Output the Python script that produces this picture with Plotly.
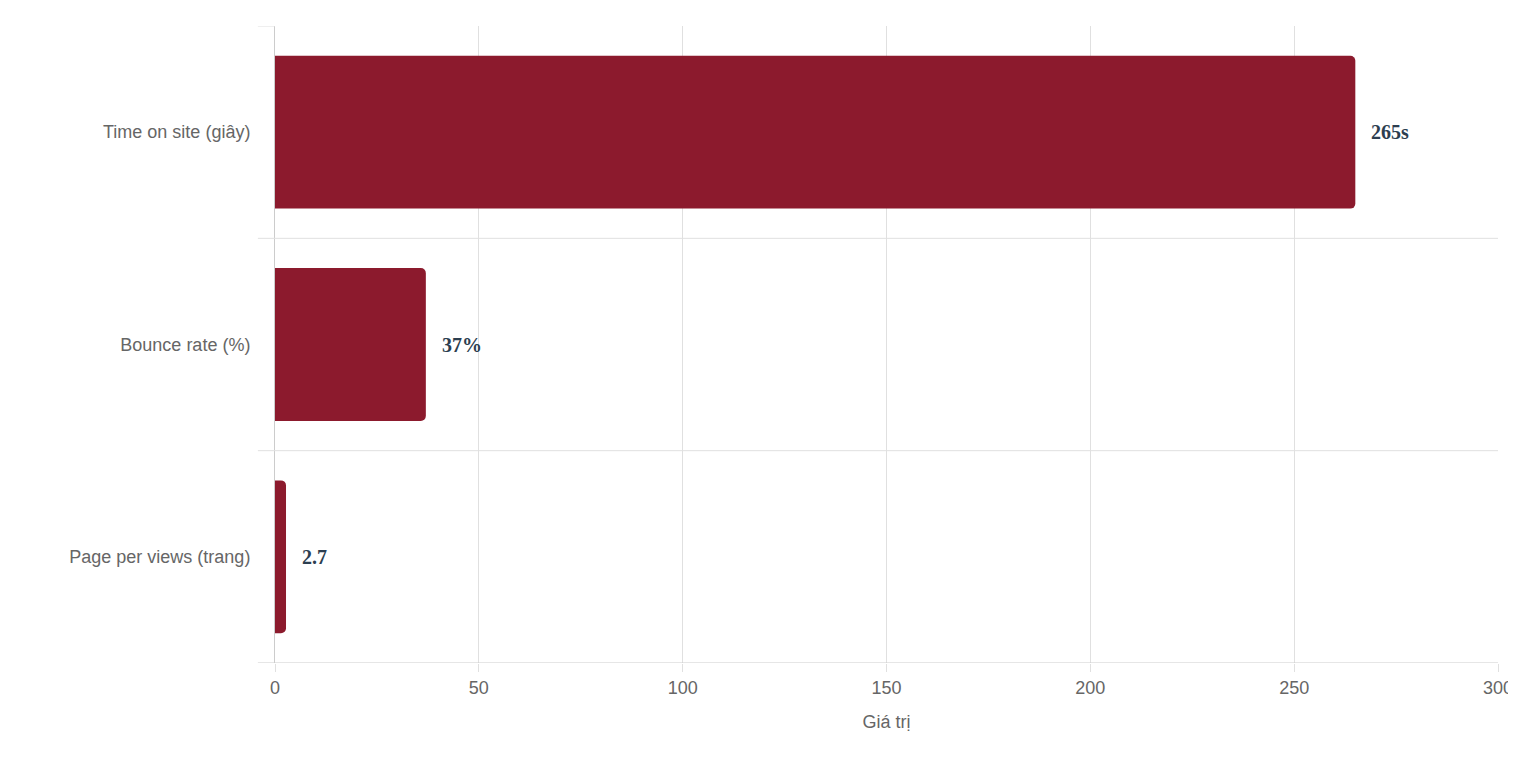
import plotly.graph_objects as go

categories = ["Time on site (giây)", "Bounce rate (%)", "Page per views (trang)"]
values = [265, 37, 2.7]
labels = ["265s", "37%", "2.7"]
x_ticks = [0, 50, 100, 150, 200, 250, 300]

fig = go.Figure(go.Bar(
    x=values, y=list(range(len(categories))), orientation="h",
    marker=dict(color="#8c1a2d", line=dict(width=0)), width=0.72,
))
for i, (v, t) in enumerate(zip(values, labels)):
    fig.add_annotation(x=v, y=i, text=f"<b>{t}</b>", showarrow=False, xanchor="left",
                       xshift=14, font=dict(family="Liberation Serif", size=20, color="#2c3e50"))
grid = "#e0e0e0"
for b in [0.5, 1.5, 2.5]:
    fig.add_shape(type="line", xref="paper", x0=-0.014, x1=1, yref="y", y0=b, y1=b,
                  line=dict(color=grid if b != 2.5 else "#cccccc", width=1))
fig.add_shape(type="line", xref="paper", x0=-0.014, x1=0, yref="y", y0=-0.5, y1=-0.5,
              line=dict(color=grid, width=1))
fig.update_layout(
    width=1516, height=758, margin=dict(l=267, r=26, t=18, b=103),
    plot_bgcolor="white", paper_bgcolor="white", barcornerradius=5, showlegend=False,
    font=dict(family="Liberation Sans", size=18, color="#666666"),
    xaxis=dict(range=[0, 300], tickvals=x_ticks, showgrid=True, gridcolor=grid, zeroline=False,
               ticks="outside", ticklen=8, tickcolor=grid, showline=False,
               title=dict(text="Giá trị", standoff=18, font=dict(size=18, color="#666666"))),
    yaxis=dict(range=[2.5, -0.5], tickvals=[0, 1, 2], ticktext=categories, showgrid=False,
               zeroline=False, showline=True, linecolor="#cccccc", ticks="", ticklabelstandoff=20),
)
fig.write_html("out.html")
